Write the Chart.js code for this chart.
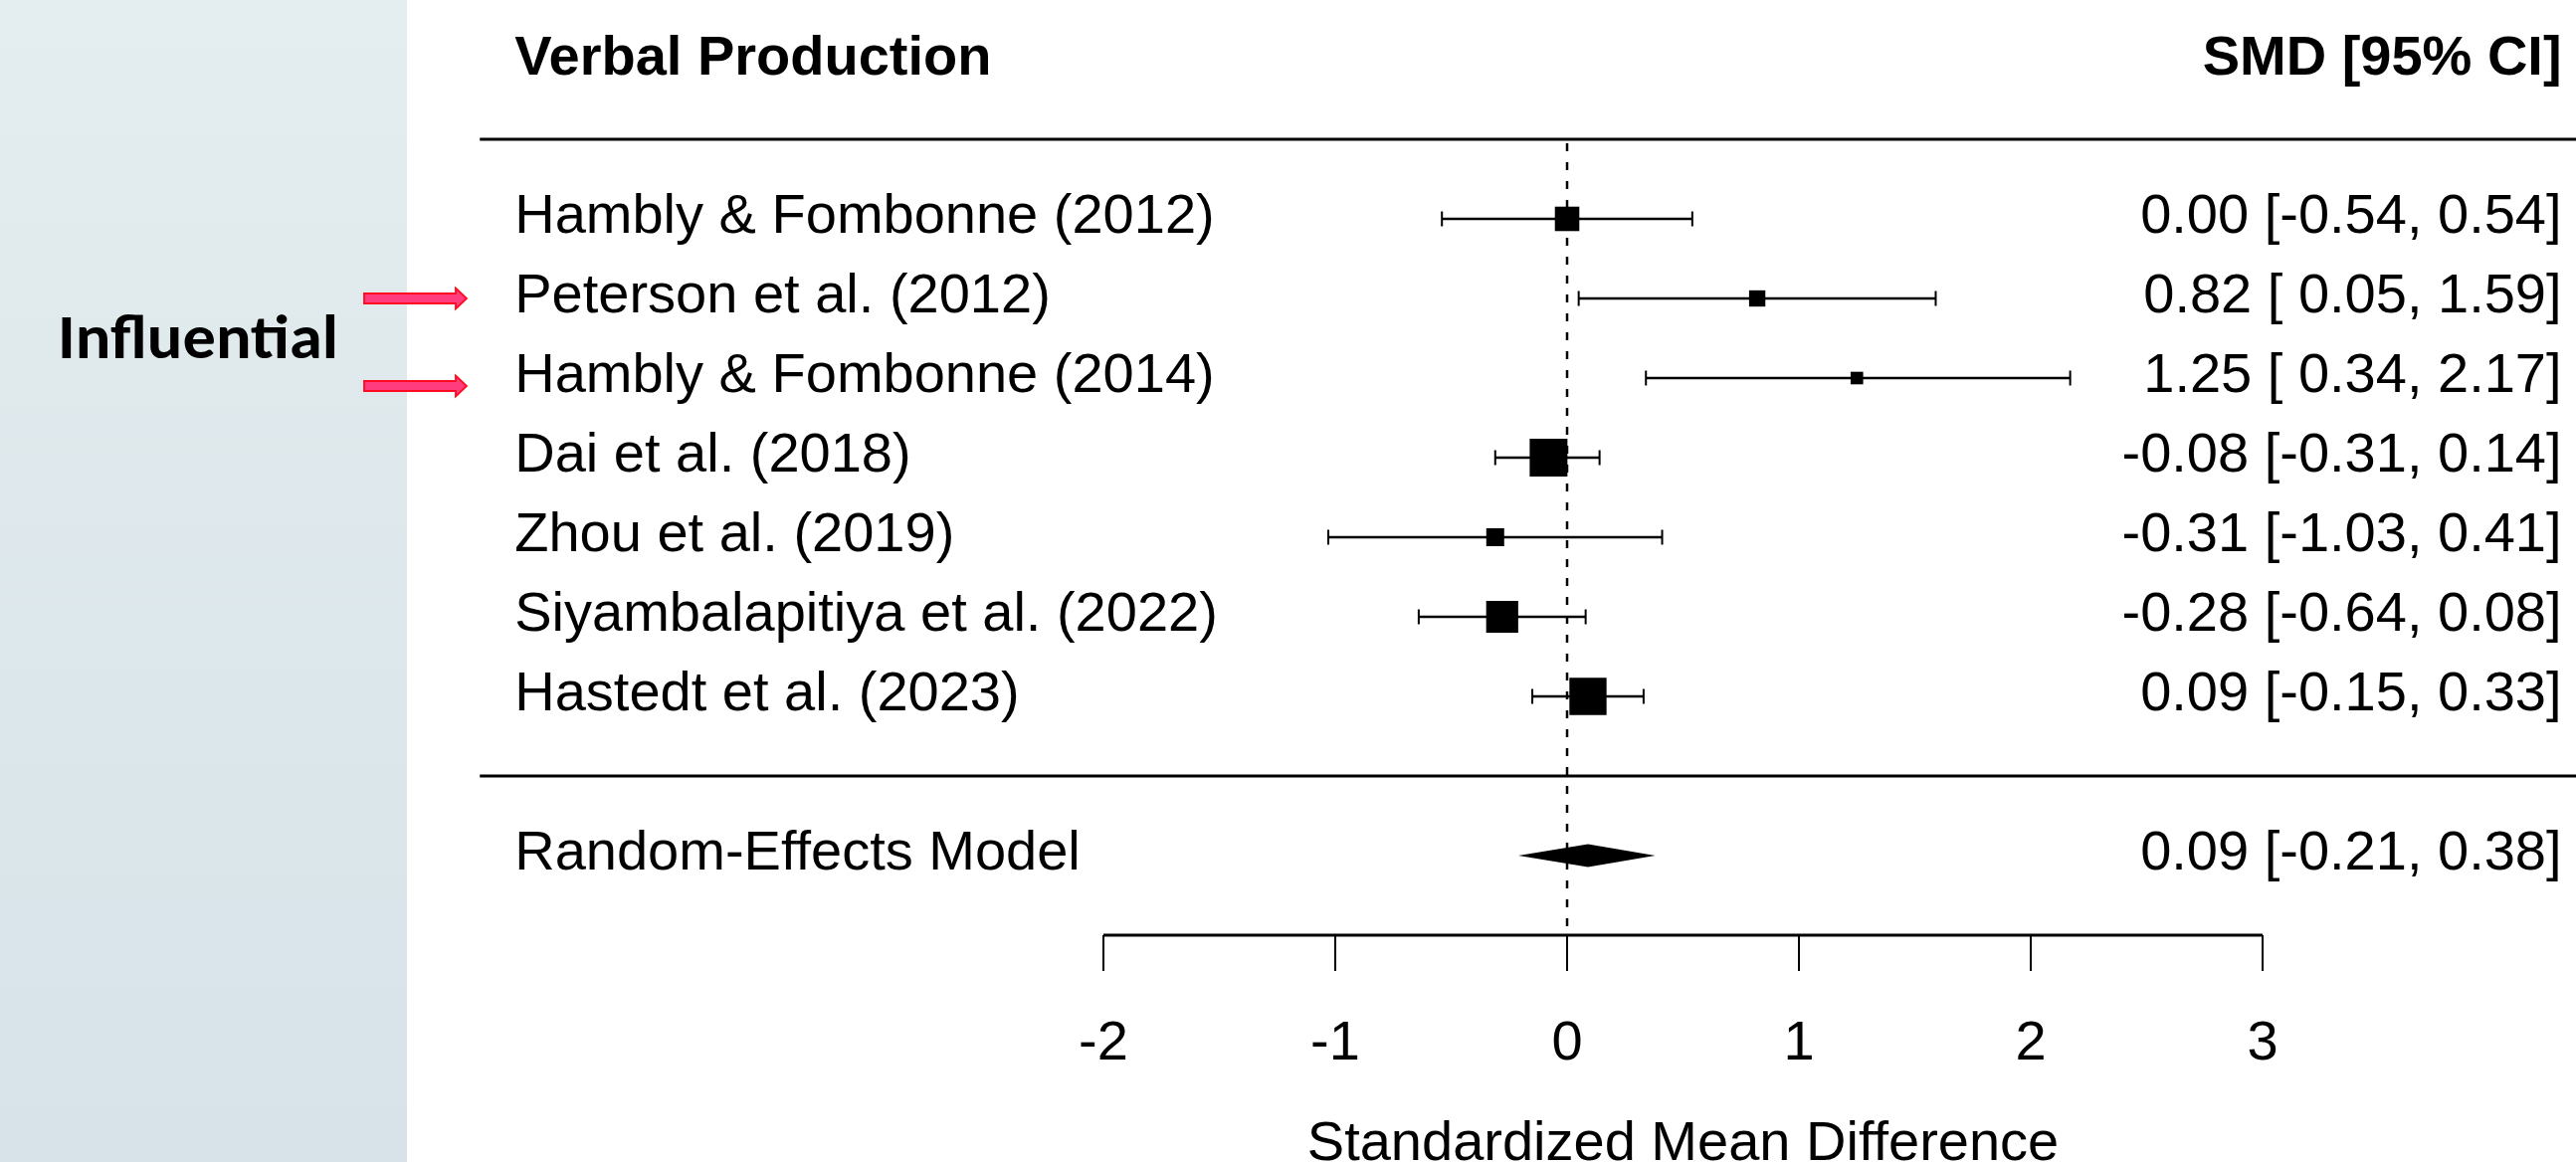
<!DOCTYPE html>
<html>
<head>
<meta charset="utf-8">
<title>Verbal Production forest plot</title>
<script src="https://cdn.jsdelivr.net/npm/chart.js@4.4.1/dist/chart.umd.min.js"></script>
<style>
  html, body { margin: 0; padding: 0; background: #ffffff; }
  #wrap { position: relative; width: 2589px; height: 1168px; overflow: hidden; }
</style>
</head>
<body>
<div id="wrap"><canvas id="forest"></canvas></div>
<script>
// study rows, top to bottom
var studies = [
    'Hambly & Fombonne (2012)',
    'Peterson et al. (2012)',
    'Hambly & Fombonne (2014)',
    'Dai et al. (2018)',
    'Zhou et al. (2019)',
    'Siyambalapitiya et al. (2022)',
    'Hastedt et al. (2023)'
];
var estimates = [0.00, 0.82, 1.25, -0.08, -0.31, -0.28, 0.09];
var lower     = [-0.54, 0.05, 0.34, -0.31, -1.03, -0.64, -0.15];
var upper     = [0.54, 1.59, 2.17, 0.14, 0.41, 0.08, 0.33];
// relative model weights (%)
var weights   = [13.8, 9.8, 8.0, 20.3, 10.6, 17.5, 20.0];
var rows      = [7, 6, 5, 4, 3, 2, 1];

var modelLabel = ['Random-Effects Model'];
var modelEstimate = [0.09];
var modelLower = [-0.21];
var modelUpper = [0.38];

var xTicks = [-2, -1, 0, 1, 2, 3];
var headerLeft = 'Verbal Production';
var headerRight = 'SMD [95% CI]';
var xTitle = 'Standardized Mean Difference';
var sideNote = 'Influential';
var flagged = ['Peterson et al. (2012)', 'Hambly & Fombonne (2014)'];

// layout in data units (like metafor's xlim / rows)
var XLIM = [-4.69, 4.29];
var HEADER_ROW = 9, TOP_RULE_ROW = 8, SEP_ROW = 0, MODEL_ROW = -1, AXIS_ROW = -2;

var FONT = "'Liberation Sans', Arial, Helvetica, sans-serif";
var PANEL_W = 409;

function fmt(v, width) {
    var s = v.toFixed(2);
    while (s.length < width) s = ' ' + s;
    return s;
}
function widest(arr) {
    var w = 0;
    arr.forEach(function (v) { w = Math.max(w, v.toFixed(2).length); });
    return w;
}
var allLower = lower.concat(modelLower), allUpper = upper.concat(modelUpper), allEst = estimates.concat(modelEstimate);
var wl = widest(allLower), wu = widest(allUpper), we = widest(allEst);
function annot(e, l, u) {
    return fmt(e, we) + ' [' + fmt(l, wl) + ', ' + fmt(u, wu) + ']';
}

// square side follows metafor: psize in 0.5 .. 1.5
var wMin = Math.min.apply(null, weights), wMax = Math.max.apply(null, weights);
function squareSide(w) {
    return 25.3 * (0.5 + (w - wMin) / (wMax - wMin));
}

var pointData = estimates.map(function (e, i) { return { x: e, y: rows[i] }; });

var panelPlugin = {
    id: 'panel',
    beforeDraw: function (chart) {
        var ctx = chart.ctx;
        ctx.save();
        ctx.fillStyle = '#ffffff';
        ctx.fillRect(0, 0, chart.width, chart.height);
        var g = ctx.createLinearGradient(0, 0, 0, chart.height);
        g.addColorStop(0, '#e4edef');
        g.addColorStop(1, '#d7e3e9');
        ctx.fillStyle = g;
        ctx.fillRect(0, 0, PANEL_W, chart.height);
        ctx.restore();
    }
};

var forestLines = {
    id: 'forestLines',
    beforeDatasetsDraw: function (chart) {
        var ctx = chart.ctx, xs = chart.scales.x, ys = chart.scales.y;
        ctx.save();
        ctx.strokeStyle = '#000';
        // horizontal rules
        ctx.lineWidth = 3;
        [TOP_RULE_ROW, SEP_ROW].forEach(function (r) {
            var y = ys.getPixelForValue(r);
            ctx.beginPath();
            ctx.moveTo(xs.getPixelForValue(XLIM[0]), y);
            ctx.lineTo(chart.width, y);
            ctx.stroke();
        });
        // dashed reference line at 0
        ctx.lineWidth = 2.5;
        ctx.setLineDash([8, 11]);
        ctx.beginPath();
        ctx.moveTo(xs.getPixelForValue(0), ys.getPixelForValue(TOP_RULE_ROW) + 4);
        ctx.lineTo(xs.getPixelForValue(0), ys.getPixelForValue(AXIS_ROW));
        ctx.stroke();
        ctx.setLineDash([]);
        // confidence intervals
        studies.forEach(function (s, i) {
            var y = ys.getPixelForValue(rows[i]);
            var x1 = xs.getPixelForValue(lower[i]), x2 = xs.getPixelForValue(upper[i]);
            ctx.lineWidth = 2.6;
            ctx.beginPath();
            ctx.moveTo(x1, y); ctx.lineTo(x2, y);
            ctx.stroke();
            ctx.lineWidth = 2;
            ctx.beginPath();
            ctx.moveTo(x1, y - 7.5); ctx.lineTo(x1, y + 7.5);
            ctx.moveTo(x2, y - 7.5); ctx.lineTo(x2, y + 7.5);
            ctx.stroke();
        });
        // summary diamond
        var yd = ys.getPixelForValue(MODEL_ROW);
        ctx.fillStyle = '#000';
        ctx.beginPath();
        ctx.moveTo(xs.getPixelForValue(modelLower[0]), yd);
        ctx.lineTo(xs.getPixelForValue(modelEstimate[0]), yd - 11.5);
        ctx.lineTo(xs.getPixelForValue(modelUpper[0]), yd);
        ctx.lineTo(xs.getPixelForValue(modelEstimate[0]), yd + 11.5);
        ctx.closePath();
        ctx.fill();
        ctx.restore();
    }
};

var forestText = {
    id: 'forestText',
    afterDraw: function (chart) {
        var ctx = chart.ctx, xs = chart.scales.x, ys = chart.scales.y;
        var xl = xs.getPixelForValue(XLIM[0]) + 35;
        var xr = xs.getPixelForValue(XLIM[1]);
        ctx.save();
        ctx.fillStyle = '#000';
        ctx.textBaseline = 'alphabetic';

        // headers
        ctx.font = 'bold 56px ' + FONT;
        var yh = ys.getPixelForValue(HEADER_ROW) + 15;
        ctx.textAlign = 'left';
        ctx.fillText(headerLeft, xl, yh);
        ctx.textAlign = 'right';
        ctx.fillText(headerRight, xr, yh);

        // study labels and annotations
        ctx.font = '56px ' + FONT;
        studies.forEach(function (s, i) {
            var y = ys.getPixelForValue(rows[i]) + 14;
            ctx.textAlign = 'left';
            ctx.fillText(s, xl, y);
            ctx.textAlign = 'right';
            ctx.fillText(annot(estimates[i], lower[i], upper[i]), xr, y);
        });
        var ym = ys.getPixelForValue(MODEL_ROW) + 14;
        ctx.textAlign = 'left';
        ctx.fillText(modelLabel[0], xl, ym);
        ctx.textAlign = 'right';
        ctx.fillText(annot(modelEstimate[0], modelLower[0], modelUpper[0]), xr, ym);

        // x axis
        var ya = ys.getPixelForValue(AXIS_ROW);
        var xa0 = xs.getPixelForValue(xTicks[0]), xa1 = xs.getPixelForValue(xTicks[xTicks.length - 1]);
        ctx.strokeStyle = '#000';
        ctx.lineWidth = 3;
        ctx.beginPath();
        ctx.moveTo(xa0, ya); ctx.lineTo(xa1, ya);
        ctx.stroke();
        ctx.lineWidth = 2;
        ctx.textAlign = 'center';
        xTicks.forEach(function (t) {
            var x = xs.getPixelForValue(t);
            ctx.beginPath();
            ctx.moveTo(x, ya); ctx.lineTo(x, ya + 36);
            ctx.stroke();
            ctx.fillText(String(t), x, ya + 125);
        });
        ctx.fillText(xTitle, (xa0 + xa1) / 2, ya + 226);

        // side annotation: "Influential" with arrows to the flagged rows
        ctx.font = 'bold 62px Carlito, Calibri, "Liberation Sans Narrow", "Open Sans", sans-serif';
        ctx.textAlign = 'left';
        var tw = ctx.measureText(sideNote).width;
        ctx.save();
        ctx.translate(58, 360);
        ctx.scale(282 / tw, 1);
        ctx.fillText(sideNote, 0, 0);
        ctx.restore();

        var arrowShift = [0, 8];
        flagged.forEach(function (name, k) {
            var i = studies.indexOf(name);
            var y = ys.getPixelForValue(rows[i]) + arrowShift[k];
            ctx.beginPath();
            ctx.moveTo(366, y - 5);
            ctx.lineTo(458, y - 5);
            ctx.lineTo(458, y - 10.5);
            ctx.lineTo(469, y);
            ctx.lineTo(458, y + 10.5);
            ctx.lineTo(458, y + 5);
            ctx.lineTo(366, y + 5);
            ctx.closePath();
            ctx.fillStyle = '#ff3c7e';
            ctx.fill();
            ctx.strokeStyle = '#ff0a1e';
            ctx.lineWidth = 1.8;
            ctx.stroke();
        });
        ctx.restore();
    }
};

var ctx = document.getElementById('forest').getContext('2d');
var chart = new Chart(ctx, {
    type: 'scatter',
    data: {
        datasets: [{
            label: 'SMD',
            data: pointData,
            pointStyle: 'rect',
            pointRadius: function (c) { return squareSide(weights[c.dataIndex]) / Math.SQRT2; },
            backgroundColor: '#000',
            borderColor: '#000',
            borderWidth: 0
        }]
    },
    options: {
        responsive: true,
        maintainAspectRatio: false,
        devicePixelRatio: 1,
        animation: false,
        events: [],
        layout: { padding: 0, autoPadding: false },
        plugins: { legend: { display: false }, tooltip: { enabled: false } },
        scales: {
            x: { type: 'linear', display: false, min: -6.7597, max: 4.3519 },
            y: { type: 'linear', display: false, min: -4.85, max: 9.75 }
        }
    },
    plugins: [panelPlugin, forestLines, forestText]
});
</script>
</body>
</html>
